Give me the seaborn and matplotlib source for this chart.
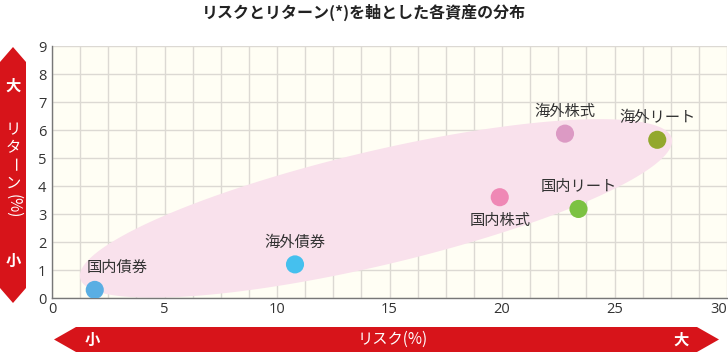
import matplotlib
matplotlib.use("Agg")
import matplotlib.pyplot as plt
import seaborn as sns
import numpy as np
import pandas as pd
from matplotlib.patches import Polygon
from matplotlib.ticker import MultipleLocator

assets = ["国内債券", "海外債券", "国内株式", "海外株式", "国内リート", "海外リート"]
risk = [1.9, 10.8, 19.9, 22.8, 23.4, 26.9]
ret = [0.29, 1.2, 3.6, 5.87, 3.18, 5.65]
colors = ["#5aaee3", "#45c0ee", "#ef88b5", "#dc9ac4", "#7cc242", "#93a82e"]
label_pos = ["above_right", "above", "below", "above", "above", "above"]

x_ticks = [0, 5, 10, 15, 20, 25, 30]
y_ticks = list(range(10))

title = "リスクとリターン(*)を軸とした各資産の分布"
x_label = "リスク(%)"
y_label_chars = ["リ", "タ", "ー", "ン"]
y_label_rot = [0, 0, 270, 0]
y_label_unit = "(%)"

df = pd.DataFrame({"asset": assets, "risk": risk, "ret": ret})

sns.set_theme(style="white")
plt.rcParams['font.family'] = ['Noto Sans CJK JP', 'DejaVu Sans']

W, H = 728, 353
fig = plt.figure(figsize=(W / 100, H / 100), dpi=100)
L, R, T, B = 52, 727, 46, 298
ax = fig.add_axes([L / W, 1 - B / H, (R - L) / W, (B - T) / H])
ax.set_facecolor("#fffef4")

ax.set_xlim(0, 30)
ax.set_ylim(0, 9)
ax.set_xticks(x_ticks)
ax.set_yticks(y_ticks)
ax.xaxis.set_minor_locator(MultipleLocator(1.25))
ax.grid(True, which="both", axis="x", color="#dcd9d3", lw=1)
ax.grid(True, which="major", axis="y", color="#dcd9d3", lw=1)
ax.set_axisbelow(True)
for s in ["top", "right"]:
    ax.spines[s].set_visible(False)
for s in ["left", "bottom"]:
    ax.spines[s].set_color("#777777")
    ax.spines[s].set_linewidth(1)
ax.tick_params(axis="both", which="both", length=0, labelsize=10.5, colors="#333333", pad=4)
ax.tick_params(axis="x", pad=3)
for lab in ax.get_xticklabels() + ax.get_yticklabels():
    lab.set_family(["Open Sans", "DejaVu Sans"])
ax.get_xticklabels()[-1].set_horizontalalignment("right")

# highlight ellipse (defined in pixel-like space, converted to data)
px_x = (R - L) / 30.0
px_y = (B - T) / 9.0
cx, cy = 14.4, 3.2
a_px, b_px, ang = 304, 57, np.deg2rad(13.3)
t = np.linspace(0, 2 * np.pi, 200)
ex = a_px * np.cos(t) * np.cos(ang) - b_px * np.sin(t) * np.sin(ang)
ey = a_px * np.cos(t) * np.sin(ang) + b_px * np.sin(t) * np.cos(ang)
ax.fill(cx + ex / px_x, cy + ey / px_y, color="#f9e1ec", zorder=1, lw=0)

sns.scatterplot(data=df, x="risk", y="ret", hue="asset", palette=colors,
                s=170, edgecolor="none", legend=False, ax=ax, zorder=3)
ax.set_xlabel("")
ax.set_ylabel("")

offsets = {"above_right": (16, 16), "above": (0, 16), "below": (0, -17)}
for name, x, y, p in zip(assets, risk, ret, label_pos):
    ax.annotate(name, (x, y), xytext=offsets[p], textcoords="offset points",
                ha="center", va="center", fontsize=11, color="#333333", zorder=4)

fig.text(0.5, 1 - 12 / H, title, ha="center", va="center", fontsize=11.5,
         fontweight="bold", color="#222222")

red = "#d7141a"
def fpoly(pts):
    return Polygon([(x / W, 1 - y / H) for x, y in pts], closed=True,
                   transform=fig.transFigure, facecolor=red, edgecolor="none")

# vertical arrow
vx0, vx1, vt, vb, vh = 0, 26, 47, 303, 15
fig.patches.append(fpoly([(vx0, vt + vh), ((vx0 + vx1) / 2, vt), (vx1, vt + vh),
                          (vx1, vb - vh), ((vx0 + vx1) / 2, vb), (vx0, vb - vh)]))
vc = (vx0 + vx1) / 2
wkw = dict(ha="center", va="center", color="white", fontsize=11)
fig.text(vc / W, 1 - 86 / H, "大", fontweight="bold", **wkw)
for ch, rot, yy in zip(y_label_chars, y_label_rot, [130, 148, 165, 183]):
    fig.text(vc / W, 1 - yy / H, ch, rotation=rot, **wkw)
fig.text(vc / W, 1 - 206 / H, y_label_unit, rotation=270, **wkw)
fig.text(vc / W, 1 - 261 / H, "小", fontweight="bold", **wkw)

# horizontal arrow
hl, hr, ht, hb, hh = 54, 719, 327, 352, 22
hc = (ht + hb) / 2
fig.patches.append(fpoly([(hl, hc), (hl + hh, ht), (hr - hh, ht), (hr, hc),
                          (hr - hh, hb), (hl + hh, hb)]))
fig.text(92 / W, 1 - hc / H, "小", fontweight="bold", **wkw)
fig.text(393 / W, 1 - hc / H, x_label, **wkw)
fig.text(681 / W, 1 - hc / H, "大", fontweight="bold", **wkw)

fig.savefig("out.png", dpi=100, facecolor="white")
